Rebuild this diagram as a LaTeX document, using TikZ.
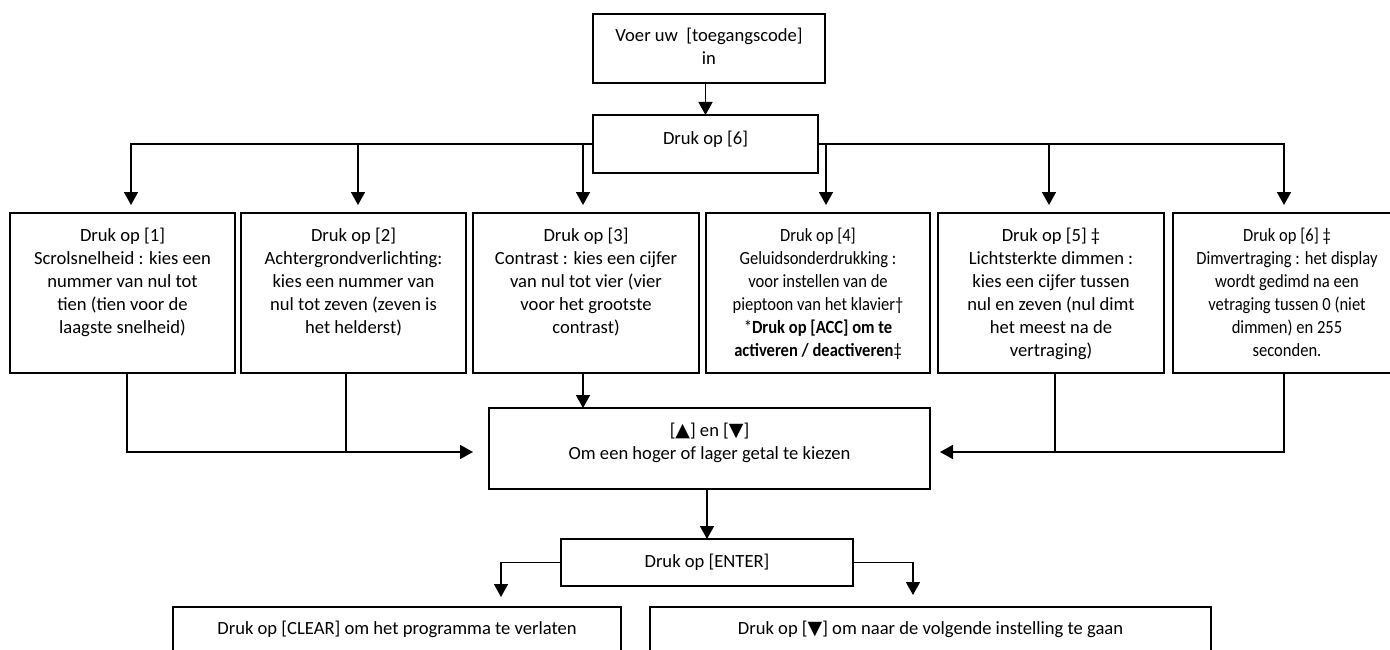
\documentclass[tikz,border=0pt]{standalone}
\usepackage{fontspec}
\setmainfont{Carlito}
\newfontfamily\condf{Carlito}[FakeStretch=0.89]
\newfontfamily\symf{DejaVu Sans}
\usetikzlibrary{arrows.meta}
\newcommand{\tri}[1]{{\symf\fontsize{19}{23}\selectfont #1}}
\begin{document}
\begin{tikzpicture}[x=1pt,y=-1pt,
  boxs/.style={draw=black,line width=1.7pt,rectangle,inner sep=0pt,outer sep=0pt,anchor=north west},
  txt/.style={align=center,inner sep=0pt,anchor=north,font=\fontsize{18.6}{23}\selectfont},
  ctxt/.style={align=center,inner sep=0pt,anchor=north,font=\condf\fontsize{18.6}{23}\selectfont},
  conn/.style={line width=1.6pt,draw=black},
  arr/.style={conn,-{Triangle[length=13pt,width=14pt]}}]
\useasboundingbox (0,0) rectangle (1390,650);
\fill[white] (0,0) rectangle (1390,650);
\clip (0,0) rectangle (1390,650);

% top
\node[boxs,minimum width=232pt,minimum height=69pt] (T0) at (593,14) {};
\node[txt] (tT0) at ([yshift=-11pt]T0.north) {\strut Voer uw\ \ [toegangscode]\\in};
\node[boxs,minimum width=225pt,minimum height=58pt] (D6) at (593,115) {};
\node[txt] (tD6) at ([yshift=-13pt]D6.north) {\strut Druk op [6]};

% six option boxes
\node[boxs,minimum width=225pt,minimum height=160pt] (b1) at (10,213) {};
\node[boxs,minimum width=225pt,minimum height=160pt] (b2) at (241,213) {};
\node[boxs,minimum width=226pt,minimum height=160pt] (b3) at (473,213) {};
\node[boxs,minimum width=224pt,minimum height=160pt] (b4) at (706,213) {};
\node[boxs,minimum width=226pt,minimum height=160pt] (b5) at (938,213) {};
\node[boxs,minimum width=228pt,minimum height=160pt] (b6) at (1173,213) {};

\node[txt] (t1) at ([yshift=-12pt]b1.north) {\strut Druk op [1]\\Scrolsnelheid : kies een\\nummer van nul tot\\tien (tien voor de\\laagste snelheid)};
\node[txt] (t2) at ([yshift=-12pt]b2.north) {\strut Druk op [2]\\Achtergrondverlichting:\\kies een nummer van\\nul tot zeven (zeven is\\het helderst)};
\node[txt] (t3) at ([yshift=-12pt]b3.north) {\strut Druk op [3]\\Contrast : kies een cijfer\\van nul tot vier (vier\\voor het grootste\\contrast)};
\node[ctxt] (t4) at ([yshift=-12pt]b4.north) {\strut Druk op [4]\\Geluidsonderdrukking :\\voor instellen van de\\pieptoon van het klavier†\\*\textbf{Druk op [ACC] om te}\\\textbf{activeren / deactiveren}‡};
\node[txt] (t5) at ([yshift=-12pt]b5.north) {\strut Druk op [5] ‡\\Lichtsterkte dimmen :\\kies een cijfer tussen\\nul en zeven (nul dimt\\het meest na de\\vertraging)};
\node[ctxt] (t6) at ([yshift=-12pt]b6.north) {\strut Druk op [6] ‡\\Dimvertraging : het display\\wordt gedimd na een\\vetraging tussen 0 (niet\\dimmen) en 255\\seconden.};

% middle
\node[boxs,minimum width=441pt,minimum height=81pt] (M) at (489,408) {};
\node[txt] (tM) at ([yshift=-12pt]M.north) {\strut[\tri{▲}] en [\tri{▼}]\\Om een hoger of lager getal te kiezen};
\node[boxs,minimum width=292pt,minimum height=47pt] (E) at (561,539) {};
\node[txt] (tE) at ([yshift=-12pt]E.north) {\strut Druk op [ENTER]};

% bottom
\node[boxs,minimum width=448pt,minimum height=80pt] (L) at (173,607) {};
\node[txt] (tL) at ([yshift=-11pt]L.north) {\strut Druk op [CLEAR] om het programma te verlaten};
\node[boxs,minimum width=561pt,minimum height=80pt] (R) at (650,607) {};
\node[txt] (tR) at ([yshift=-11pt]R.north) {\strut Druk op [\tri{▼}] om naar de volgende instelling te gaan};

% arrow end points
\coordinate (a1) at (131,205);
\coordinate (a2) at (358,205);
\coordinate (a3) at (583,205);
\coordinate (a4) at (826,205);
\coordinate (a5) at (1049,205);
\coordinate (a6) at (1284,205);
\coordinate (mL) at (473,452);
\coordinate (mR) at (940,452);
\coordinate (l1) at (501,597);
\coordinate (r1) at (913,595);

% connectors
\draw[arr] (D6.north |- T0.south) -- (D6.north);
\draw[arr] (D6.west) -| (a1);
\draw[arr] (D6.west -| a2) -- (a2);
\draw[arr] (D6.west -| a3) -- (a3);
\draw[arr] (D6.east) -| (a6);
\draw[arr] (D6.east -| a4) -- (a4);
\draw[arr] (D6.east -| a5) -- (a5);

\draw[arr] ([xshift=4.5pt]b1.south) |- (mL);
\draw[conn] ([xshift=-7.5pt]b2.south) -- ([xshift=-7.5pt]b2.south |- mL);
\draw[arr] ([xshift=-3pt]b3.south) -- ([xshift=-3pt]b3.south |- M.north);
\draw[arr] ([xshift=-3pt]b6.south) |- (mR);
\draw[conn] ([xshift=4pt]b5.south) -- ([xshift=4pt]b5.south |- mR);

\draw[arr] (E.north |- M.south) -- (E.north);
\draw[arr] (E.west) -| (l1);
\draw[arr] (E.east) -| (r1);
\end{tikzpicture}
\end{document}
